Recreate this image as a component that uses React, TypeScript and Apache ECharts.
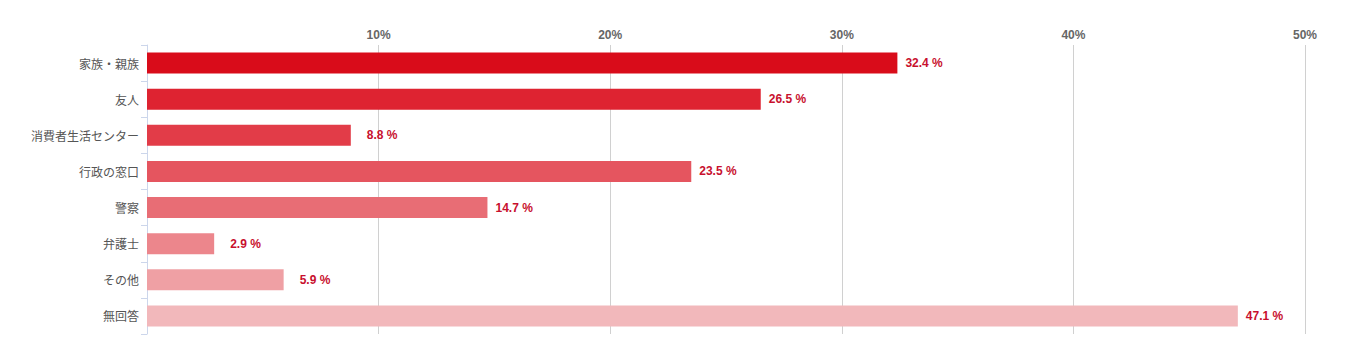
import React, { useEffect, useRef } from "react";
import * as echarts from "echarts";

const categories = ["家族・親族", "友人", "消費者生活センター", "行政の窓口", "警察", "弁護士", "その他", "無回答"];
const values = [32.4, 26.5, 8.8, 23.5, 14.7, 2.9, 5.9, 47.1];
const barColors = ["#d90c1a", "#de2331", "#e23c48", "#e5555f", "#e86d75", "#ec868c", "#efa0a4", "#f2b8bb"];
const tickValues = [0, 10, 20, 30, 40, 50];

export default function App() {
  const ref = useRef<HTMLDivElement>(null);
  useEffect(() => {
    if (!ref.current) return;
    const chart = echarts.init(ref.current, undefined, { renderer: "svg" });
    const narrow = "'Liberation Sans Narrow', 'Arial Narrow', 'Liberation Sans', sans-serif";
    chart.setOption({
      animation: false,
      grid: { left: 139, right: 34, top: 37, bottom: 19, containLabel: false },
      xAxis: {
        type: "value",
        position: "top",
        min: tickValues[0],
        max: tickValues[tickValues.length - 1],
        interval: 10,
        axisLine: { show: false },
        axisTick: { show: false },
        axisLabel: {
          color: "#666",
          fontWeight: "bold",
          fontSize: 12,
          fontFamily: narrow,
          margin: 4,
          formatter: (v: number) => (v === 0 ? "" : v + "%"),
        },
        splitLine: { show: true, lineStyle: { color: "#d0d0d0", width: 1 } },
      },
      yAxis: {
        type: "category",
        data: categories,
        inverse: true,
        axisLine: { show: true, lineStyle: { color: "#ccd6eb" } },
        axisTick: { show: true, length: 6, lineStyle: { color: "#ccd6eb" } },
        axisLabel: {
          color: "#555",
          fontSize: 12,
          fontFamily: "'Noto Sans CJK JP', sans-serif",
          margin: 8,
        },
      },
      series: [
        {
          type: "bar",
          data: values.map((v, i) => ({
            value: v,
            itemStyle: { color: barColors[i] },
            label: { distance: v < 10 ? 16 : 8 },
          })),
          barWidth: 21,
          label: {
            show: true,
            position: "right",
            distance: 8,
            color: "#c8102e",
            fontWeight: "bold",
            fontSize: 12,
            fontFamily: narrow,
            formatter: (p: any) => p.value + " %",
          },
        },
      ],
    });
    return () => chart.dispose();
  }, []);
  return <div ref={ref} style={{ width: 1331, height: 345 }} />;
}
